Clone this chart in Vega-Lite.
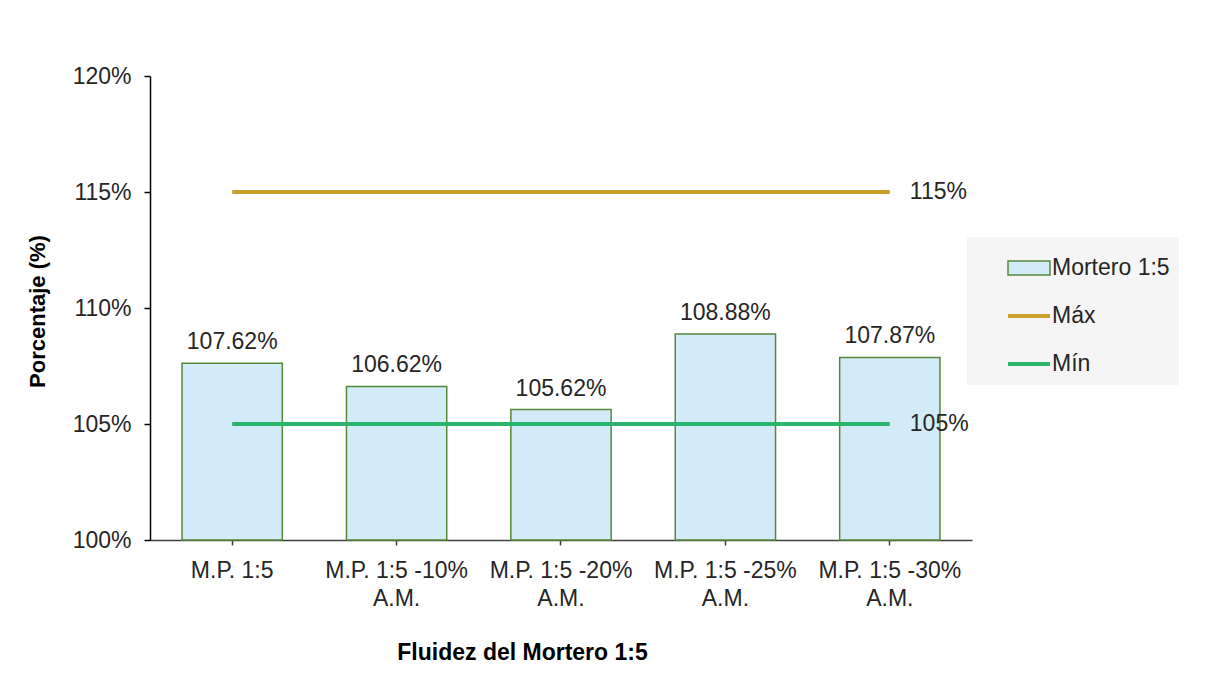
{
  "$schema": "https://vega.github.io/schema/vega-lite/v6.json",
  "width": 822,
  "height": 464,
  "autosize": {"type": "none"},
  "padding": {"left": 150, "top": 76, "right": 235, "bottom": 150},
  "background": "white",
  "config": {
    "font": "Liberation Sans",
    "view": {"stroke": null},
    "legend": {
      "orient": "none",
      "legendX": 817,
      "legendY": 161,
      "fillColor": "#F5F5F5",
      "padding": 9,
      "symbolOffset": 30,
      "labelOffset": 0,
      "labelFontSize": 23,
      "labelColor": "#262626",
      "rowPadding": 13,
      "symbolSize": 1764,
      "symbolOpacity": 1
    }
  },
  "datasets": {
    "barras": [
      {"muestra": "M.P. 1:5", "serie": "Mortero 1:5", "valor": 1.0762},
      {"muestra": "M.P. 1:5 -10% A.M.", "serie": "Mortero 1:5", "valor": 1.0662},
      {"muestra": "M.P. 1:5 -20% A.M.", "serie": "Mortero 1:5", "valor": 1.0562},
      {"muestra": "M.P. 1:5 -25% A.M.", "serie": "Mortero 1:5", "valor": 1.0888},
      {"muestra": "M.P. 1:5 -30% A.M.", "serie": "Mortero 1:5", "valor": 1.0787}
    ],
    "limites": [
      {"muestra": "M.P. 1:5", "serie": "Máx", "valor": 1.15},
      {"muestra": "M.P. 1:5 -10% A.M.", "serie": "Máx", "valor": 1.15},
      {"muestra": "M.P. 1:5 -20% A.M.", "serie": "Máx", "valor": 1.15},
      {"muestra": "M.P. 1:5 -25% A.M.", "serie": "Máx", "valor": 1.15},
      {"muestra": "M.P. 1:5 -30% A.M.", "serie": "Máx", "valor": 1.15},
      {"muestra": "M.P. 1:5", "serie": "Mín", "valor": 1.05},
      {"muestra": "M.P. 1:5 -10% A.M.", "serie": "Mín", "valor": 1.05},
      {"muestra": "M.P. 1:5 -20% A.M.", "serie": "Mín", "valor": 1.05},
      {"muestra": "M.P. 1:5 -25% A.M.", "serie": "Mín", "valor": 1.05},
      {"muestra": "M.P. 1:5 -30% A.M.", "serie": "Mín", "valor": 1.05}
    ]
  },
  "encoding": {
    "x": {
      "field": "muestra",
      "type": "nominal",
      "sort": ["M.P. 1:5", "M.P. 1:5 -10% A.M.", "M.P. 1:5 -20% A.M.", "M.P. 1:5 -25% A.M.", "M.P. 1:5 -30% A.M."],
      "scale": {"paddingInner": 0.39, "paddingOuter": 0.195},
      "axis": {
        "title": "Fluidez del Mortero 1:5",
        "titleFontSize": 23,
        "titleFontWeight": "bold",
        "titleColor": "#000000",
        "titleX": 372,
        "titleY": 112,
        "titleBaseline": "middle",
        "titleAnchor": "middle",
        "labelAngle": 0,
        "labelFontSize": 23,
        "labelColor": "#262626",
        "labelLineHeight": 28,
        "labelPadding": 14,
        "labelOverlap": false,
        "labelExpr": "indexof(datum.value, ' A.M.') > 0 ? [replace(datum.value, ' A.M.', ''), 'A.M.'] : datum.value",
        "domainColor": "#404040",
        "domainWidth": 1.5,
        "tickColor": "#404040",
        "tickSize": 5,
        "tickWidth": 1.5
      }
    }
  },
  "layer": [
    {
      "data": {"name": "barras"},
      "mark": {"type": "bar", "stroke": "#56883A", "strokeWidth": 1.5},
      "encoding": {
        "y": {
          "field": "valor",
          "type": "quantitative",
          "scale": {"domain": [1.0, 1.2], "zero": false, "nice": false},
          "axis": {
            "title": "Porcentaje (%)",
            "titleFontSize": 22,
            "titleFontWeight": "bold",
            "titleColor": "#000000",
            "titleX": -113,
            "titleY": 235,
            "titleAngle": -90,
            "titleBaseline": "middle",
            "titleAnchor": "middle",
            "format": ".0%",
            "values": [1.0, 1.05, 1.1, 1.15, 1.2],
            "grid": false,
            "labelFontSize": 23,
            "labelColor": "#262626",
            "labelPadding": 13,
            "domainColor": "#000000",
            "domainWidth": 1.5,
            "tickColor": "#000000",
            "tickSize": 6,
            "tickWidth": 1.5
          }
        },
        "y2": {"datum": 1.0},
        "fill": {
          "field": "serie",
          "type": "nominal",
          "scale": {"domain": ["Mortero 1:5", "Máx", "Mín"], "range": ["#D3EBF9", "transparent", "transparent"]},
          "legend": {"title": null}
        }
      }
    },
    {
      "data": {"name": "barras"},
      "mark": {"type": "text", "baseline": "bottom", "dy": -9, "fontSize": 23, "color": "#262626"},
      "encoding": {
        "y": {"field": "valor", "type": "quantitative"},
        "text": {"field": "valor", "type": "quantitative", "format": ".2%"}
      }
    },
    {
      "data": {"name": "limites"},
      "mark": {"type": "line"},
      "encoding": {
        "y": {"field": "valor", "type": "quantitative"},
        "stroke": {
          "field": "serie",
          "type": "nominal",
          "scale": {"domain": ["Mortero 1:5", "Máx", "Mín"], "range": ["#56883A", "#C9A02C", "#2BB56A"]},
          "legend": {"title": null}
        },
        "strokeWidth": {
          "field": "serie",
          "type": "nominal",
          "scale": {"type": "ordinal", "domain": ["Mortero 1:5", "Máx", "Mín"], "range": [1.5, 4, 4]},
          "legend": {"title": null}
        }
      }
    },
    {
      "data": {"name": "limites"},
      "mark": {"type": "point", "opacity": 0},
      "encoding": {
        "y": {"field": "valor", "type": "quantitative"},
        "shape": {
          "field": "serie",
          "type": "nominal",
          "scale": {"domain": ["Mortero 1:5", "Máx", "Mín"], "range": ["M-1,-0.33H1V0.33H-1Z", "M-1,0H1", "M-1,0H1"]},
          "legend": {"title": null}
        }
      }
    },
    {
      "data": {"name": "limites"},
      "transform": [{"filter": "datum.muestra === 'M.P. 1:5 -30% A.M.'"}],
      "mark": {"type": "text", "align": "left", "baseline": "middle", "dx": 20, "fontSize": 23, "color": "#262626"},
      "encoding": {
        "y": {"field": "valor", "type": "quantitative"},
        "text": {"field": "valor", "type": "quantitative", "format": ".0%"}
      }
    }
  ]
}
